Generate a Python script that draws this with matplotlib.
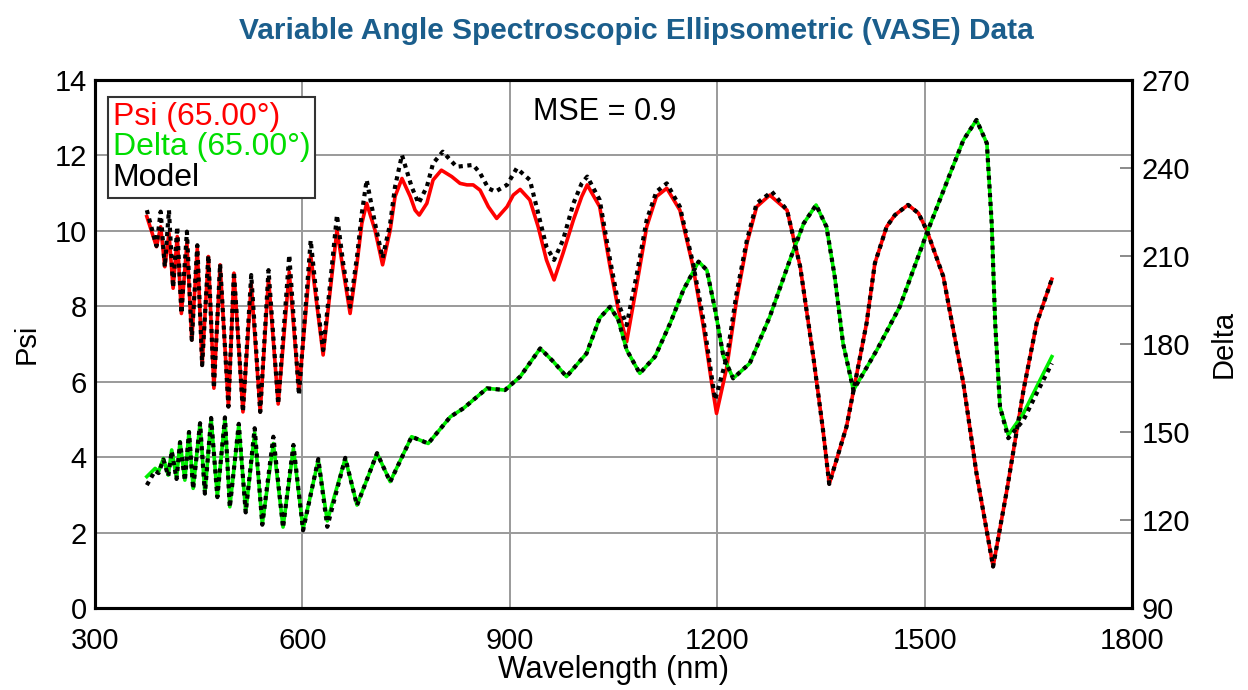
import matplotlib.pyplot as plt
from matplotlib.lines import Line2D

plt.rcParams['font.family'] = ['Liberation Sans', 'DejaVu Sans']

# measured Psi (65 deg), wavelength in nm
psi_wl = [375, 389, 395, 401, 407, 413, 419, 425, 433, 440, 448, 455, 464, 472, 481, 493,
          501, 514, 526, 539, 551, 565, 581, 595, 612, 621, 630, 640, 650, 659, 669, 679,
          686, 693, 705, 716, 727, 734, 744, 756, 763, 769, 780, 789, 801, 816, 828, 838,
          847, 857, 869, 881, 896, 905, 915, 929, 941, 953, 964, 977, 992, 1004, 1012, 1030,
          1045, 1057, 1069, 1084, 1098, 1112, 1127, 1146, 1165, 1180, 1192, 1199, 1214, 1228,
          1243, 1257, 1276, 1301, 1320, 1339, 1353, 1362, 1387, 1416, 1428, 1445, 1457, 1476,
          1491, 1503, 1527, 1556, 1575, 1599, 1619, 1643, 1662, 1684]
psi = [10.38, 9.58, 10.11, 9.05, 9.94, 8.48, 9.85, 7.81, 9.67, 7.11, 9.54, 6.44, 9.32, 5.83,
       9.10, 5.34, 8.88, 5.20, 8.59, 5.20, 8.75, 5.41, 8.91, 5.75, 9.36, 8.03, 6.71, 8.38,
       10.02, 8.96, 7.81, 9.14, 10.20, 10.73, 10.02, 9.10, 10.02, 10.91, 11.39, 10.91, 10.55,
       10.42, 10.73, 11.35, 11.61, 11.44, 11.26, 11.22, 11.22, 11.08, 10.64, 10.33, 10.64,
       10.95, 11.10, 10.82, 10.11, 9.23, 8.70, 9.41, 10.29, 10.91, 11.22, 10.64, 9.05, 7.90,
       7.06, 8.61, 10.11, 10.91, 11.13, 10.55, 9.05, 7.46, 5.96, 5.16, 6.40, 8.17, 9.67,
       10.64, 10.95, 10.55, 9.05, 6.66, 4.72, 3.29, 4.81, 7.55, 9.14, 10.11, 10.42, 10.69,
       10.47, 10.02, 8.79, 5.96, 3.57, 1.10, 3.13, 5.78, 7.55, 8.72]

# model Psi
mpsi_wl = [375, 389, 395, 401, 407, 413, 419, 425, 433, 440, 448, 455, 464, 472, 481, 493,
           501, 514, 526, 539, 551, 565, 581, 595, 612, 621, 630, 640, 650, 659, 669, 679,
           686, 693, 705, 716, 727, 734, 744, 758, 768, 780, 789, 803, 823, 847, 857, 869,
           879, 896, 910, 929, 941, 953, 964, 977, 992, 1004, 1012, 1030, 1045, 1057, 1069,
           1084, 1098, 1112, 1127, 1146, 1165, 1180, 1192, 1197, 1214, 1228, 1243, 1257, 1279,
           1301, 1320, 1339, 1353, 1362, 1387, 1416, 1428, 1445, 1457, 1476, 1491, 1503, 1527,
           1556, 1575, 1599, 1619, 1643, 1662, 1684]
mpsi = [10.55, 9.60, 10.51, 9.05, 10.55, 8.50, 10.11, 7.81, 9.98, 7.11, 9.62, 6.44, 9.35,
        5.83, 9.12, 5.34, 8.92, 5.20, 8.83, 5.20, 8.96, 5.41, 9.36, 5.65, 9.75, 8.17, 6.84,
        8.57, 10.42, 9.14, 7.99, 9.32, 10.47, 11.35, 10.20, 9.28, 10.20, 11.17, 12.01, 11.17,
        10.73, 11.17, 11.79, 12.10, 11.70, 11.75, 11.53, 11.13, 11.04, 11.22, 11.66, 11.35,
        10.47, 9.58, 9.23, 9.76, 10.73, 11.26, 11.44, 10.82, 9.23, 8.08, 7.50, 8.88, 10.29,
        11.04, 11.26, 10.64, 9.14, 7.64, 6.13, 5.52, 6.66, 8.35, 9.76, 10.73, 11.04, 10.55,
        9.05, 6.66, 4.72, 3.29, 4.81, 7.55, 9.14, 10.11, 10.42, 10.69, 10.47, 10.02, 8.79,
        5.96, 3.57, 1.10, 3.13, 5.78, 7.55, 8.72]

# measured Delta (65 deg)
delta_wl = [375, 387, 392, 399, 406, 411, 418, 423, 430, 436, 442, 452, 459, 468, 477, 488,
            495, 508, 518, 531, 542, 558, 572, 587, 601, 623, 636, 662, 679, 708, 727, 758,
            782, 814, 833, 867, 893, 915, 944, 963, 982, 1011, 1030, 1045, 1057, 1069, 1088,
            1110, 1132, 1151, 1173, 1185, 1197, 1209, 1223, 1247, 1276, 1305, 1325, 1343, 1358,
            1370, 1382, 1397, 1431, 1464, 1503, 1537, 1556, 1575, 1590, 1597, 1602, 1609, 1621,
            1643, 1662, 1684]
delta = [134.8, 137.6, 136.5, 141.0, 135.3, 143.9, 134.2, 146.7, 133.6, 150.1, 130.8, 153.0,
         129.1, 154.7, 127.9, 154.7, 124.5, 152.4, 122.8, 149.7, 118.6, 146.1, 117.6, 144.4,
         116.9, 140.5, 119.7, 141.0, 125.1, 142.7, 133.1, 148.4, 146.1, 155.2, 158.1, 164.9,
         164.3, 168.9, 178.5, 174.0, 168.9, 176.8, 188.9, 192.7, 188.2, 178.0, 170.0, 175.7,
         187.1, 198.4, 208.1, 205.2, 191.6, 175.7, 168.3, 173.4, 189.3, 208.6, 221.1, 227.4,
         220.0, 202.9, 180.2, 164.3, 178.0, 192.7, 217.7, 238.2, 249.5, 256.4, 248.4, 221.1,
         187.1, 158.6, 149.0, 156.4, 165.4, 175.7]

# model Delta
mdelta = [131.9, 136.8, 136.0, 140.6, 135.0, 143.5, 134.0, 146.5, 133.4, 150.0, 130.6, 153.0,
          129.0, 154.8, 127.8, 155.0, 124.3, 152.8, 122.6, 151.3, 118.4, 148.4, 117.4, 145.6,
          116.5, 140.8, 117.7, 141.2, 125.0, 142.8, 133.0, 148.4, 146.1, 155.2, 158.1, 164.9,
          164.3, 168.9, 178.5, 174.0, 168.9, 176.8, 188.9, 192.7, 188.2, 178.0, 170.0, 175.7,
          187.1, 198.4, 208.1, 205.2, 191.6, 175.7, 168.3, 173.4, 189.3, 208.6, 221.1, 227.4,
          220.0, 202.9, 180.2, 164.3, 178.0, 192.7, 217.7, 238.2, 249.5, 256.4, 248.4, 221.1,
          187.1, 158.6, 147.9, 154.1, 163.2, 173.4]

x_ticks = [300, 600, 900, 1200, 1500, 1800]
psi_ticks = [0, 2, 4, 6, 8, 10, 12, 14]
delta_ticks = [90, 120, 150, 180, 210, 240, 270]

fig = plt.figure(figsize=(12.48, 6.9), dpi=100)
ax = fig.add_axes([0.0761, 0.1188, 0.831, 0.7652])
ax2 = ax.twinx()

ax.set_xlim(300, 1800)
ax.set_ylim(0, 14)
ax2.set_ylim(90, 270)

ax.set_xticks(x_ticks)
ax.set_yticks(psi_ticks)
ax2.set_yticks(delta_ticks)
ax.grid(True, color='#9a9a9a', lw=1.4)
ax.tick_params(axis='y', length=0, labelsize=21, pad=6)
ax.tick_params(axis='x', length=0, labelsize=21, pad=14)
ax2.tick_params(axis='y', direction='in', length=9, width=1.2, color='#777777',
                labelsize=21, pad=7)

for sp in ax.spines.values():
    sp.set_linewidth(2.2)
for sp in ax2.spines.values():
    sp.set_linewidth(2.2)

# everything drawn on ax2 so the dotted model sits above both data curves
ax2.plot(psi_wl, psi, color='#ff0000', lw=2.6, transform=ax.transData, zorder=3)
ax2.plot(delta_wl, delta, color='#00ee00', lw=2.6, zorder=3)
ax2.plot(mpsi_wl, mpsi, color='black', lw=3, ls=(0, (1, 1.1)), transform=ax.transData, zorder=4)
ax2.plot(delta_wl, mdelta, color='black', lw=3, ls=(0, (1, 1.1)), zorder=4)

ax.set_xlabel('Wavelength (nm)', fontsize=22, labelpad=0)
ax.set_ylabel('Psi', fontsize=21, labelpad=10)
ax2.set_ylabel('Delta', fontsize=21, labelpad=14)

fig.suptitle('Variable Angle Spectroscopic Ellipsometric (VASE) Data', x=0.51, y=0.975,
             fontsize=21.5, fontweight='bold', color='#1b5e8c')

ax2.text(0.422, 0.939, 'MSE = 0.9', transform=ax.transAxes, fontsize=22, va='center')

handles = [Line2D([], [], lw=0) for _ in range(3)]
leg = ax2.legend(handles, ['Psi (65.00°)', 'Delta (65.00°)', 'Model'],
                 loc='upper left', bbox_to_anchor=(0.0125, 0.968), fontsize=23,
                 handlelength=0, handletextpad=0, labelcolor=['#ff0000', '#00dd00', 'black'],
                 fancybox=False, framealpha=1, edgecolor='#333333', borderpad=0.15,
                 labelspacing=0.02, borderaxespad=0)
leg.get_frame().set_linewidth(1.5)

fig.savefig('out.png', dpi=100)
